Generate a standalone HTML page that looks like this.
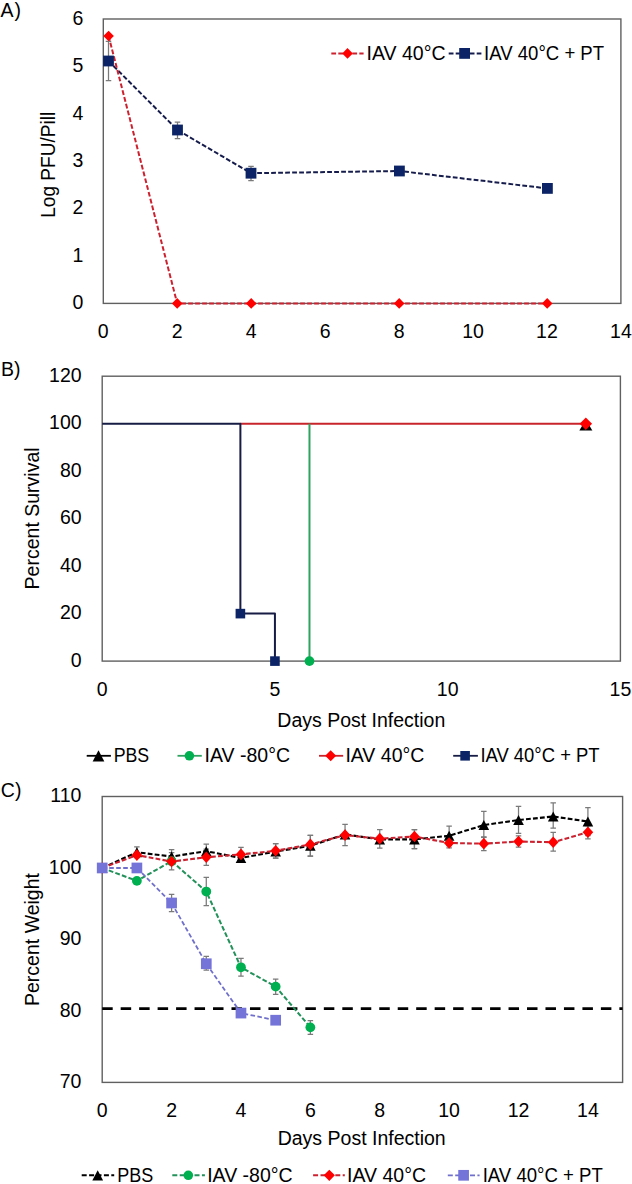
<!DOCTYPE html><html><head><meta charset="utf-8"><style>html,body{margin:0;padding:0;background:#fff;}svg{display:block;}text{font-family:"Liberation Sans",sans-serif;fill:#000;}</style></head><body>
<svg width="632" height="1184" viewBox="0 0 632 1184">
<rect width="632" height="1184" fill="#fff"/>
<rect x="103.3" y="19.0" width="517.60" height="284.40" fill="none" stroke="#606060" stroke-width="1.4"/>
<text x="0.50" y="16.60" text-anchor="start" font-size="19.5">A<tspan dx="1">)</tspan></text>
<text x="83.30" y="309.10" text-anchor="end" font-size="19.5">0</text>
<text x="83.30" y="261.70" text-anchor="end" font-size="19.5">1</text>
<text x="83.30" y="214.30" text-anchor="end" font-size="19.5">2</text>
<text x="83.30" y="166.90" text-anchor="end" font-size="19.5">3</text>
<text x="83.30" y="119.50" text-anchor="end" font-size="19.5">4</text>
<text x="83.30" y="72.10" text-anchor="end" font-size="19.5">5</text>
<text x="83.30" y="24.70" text-anchor="end" font-size="19.5">6</text>
<text x="103.30" y="337.70" text-anchor="middle" font-size="19.5">0</text>
<text x="177.24" y="337.70" text-anchor="middle" font-size="19.5">2</text>
<text x="251.19" y="337.70" text-anchor="middle" font-size="19.5">4</text>
<text x="325.13" y="337.70" text-anchor="middle" font-size="19.5">6</text>
<text x="399.07" y="337.70" text-anchor="middle" font-size="19.5">8</text>
<text x="473.01" y="337.70" text-anchor="middle" font-size="19.5">10</text>
<text x="546.96" y="337.70" text-anchor="middle" font-size="19.5">12</text>
<text x="620.90" y="337.70" text-anchor="middle" font-size="19.5">14</text>
<text transform="translate(55.4 164.8) rotate(-90)" x="0" y="0" text-anchor="middle" font-size="19.5" textLength="105.9" lengthAdjust="spacingAndGlyphs">Log PFU/Pill</text>
<path d="M108.50 41.40V80.70M105.75 41.40H111.25M105.75 80.70H111.25" stroke="#7a7a7a" stroke-width="1.25" fill="none"/>
<path d="M177.50 122.00V138.50M174.75 122.00H180.25M174.75 138.50H180.25" stroke="#7a7a7a" stroke-width="1.25" fill="none"/>
<path d="M251.00 166.40V180.60M248.25 166.40H253.75M248.25 180.60H253.75" stroke="#7a7a7a" stroke-width="1.25" fill="none"/>
<path d="M108.50 61.00L177.50 130.00L251.00 173.20L399.40 171.00L547.40 188.40" stroke="#151c4c" stroke-width="2.0" fill="none" stroke-dasharray="4.8 2.2" stroke-linejoin="round"/>
<path d="M108.60 36.00L177.20 303.40L251.20 303.40L399.20 303.40L547.20 303.40" stroke="#cc2230" stroke-width="2.0" fill="none" stroke-dasharray="4.8 2.2" stroke-linejoin="round"/>
<rect x="103.10" y="55.60" width="10.80" height="10.80" fill="#0c2466"/>
<rect x="172.10" y="124.60" width="10.80" height="10.80" fill="#0c2466"/>
<rect x="245.60" y="167.80" width="10.80" height="10.80" fill="#0c2466"/>
<rect x="394.00" y="165.60" width="10.80" height="10.80" fill="#0c2466"/>
<rect x="542.00" y="183.00" width="10.80" height="10.80" fill="#0c2466"/>
<path d="M108.60 30.70L113.90 36.00L108.60 41.30L103.30 36.00Z" fill="#ff0000"/>
<path d="M177.20 298.10L182.50 303.40L177.20 308.70L171.90 303.40Z" fill="#ff0000"/>
<path d="M251.20 298.10L256.50 303.40L251.20 308.70L245.90 303.40Z" fill="#ff0000"/>
<path d="M399.20 298.10L404.50 303.40L399.20 308.70L393.90 303.40Z" fill="#ff0000"/>
<path d="M547.20 298.10L552.50 303.40L547.20 308.70L541.90 303.40Z" fill="#ff0000"/>
<path d="M331.30 53.40L363.60 53.40" stroke="#cc2230" stroke-width="2.0" fill="none" stroke-dasharray="4.8 2.2" stroke-linejoin="round"/>
<path d="M347.50 48.10L352.80 53.40L347.50 58.70L342.20 53.40Z" fill="#ff0000"/>
<text x="366.60" y="59.50" text-anchor="start" font-size="19.5">IAV 40°C</text>
<path d="M448.70 53.40L481.40 53.40" stroke="#151c4c" stroke-width="2.0" fill="none" stroke-dasharray="4.8 2.2" stroke-linejoin="round"/>
<rect x="459.20" y="48.00" width="10.80" height="10.80" fill="#0c2466"/>
<text x="484.10" y="59.50" text-anchor="start" font-size="19.5" textLength="120" lengthAdjust="spacingAndGlyphs">IAV 40°C + PT</text>
<rect x="102.2" y="376.2" width="518.20" height="284.90" fill="none" stroke="#606060" stroke-width="1.4"/>
<text x="1.00" y="376.10" text-anchor="start" font-size="19.5">B)</text>
<text x="81.60" y="666.60" text-anchor="end" font-size="19.5">0</text>
<text x="81.60" y="619.12" text-anchor="end" font-size="19.5">20</text>
<text x="81.60" y="571.63" text-anchor="end" font-size="19.5">40</text>
<text x="81.60" y="524.15" text-anchor="end" font-size="19.5">60</text>
<text x="81.60" y="476.67" text-anchor="end" font-size="19.5">80</text>
<text x="81.60" y="429.18" text-anchor="end" font-size="19.5">100</text>
<text x="81.60" y="381.70" text-anchor="end" font-size="19.5">120</text>
<text x="102.20" y="696.00" text-anchor="middle" font-size="19.5">0</text>
<text x="274.93" y="696.00" text-anchor="middle" font-size="19.5">5</text>
<text x="447.67" y="696.00" text-anchor="middle" font-size="19.5">10</text>
<text x="620.40" y="696.00" text-anchor="middle" font-size="19.5">15</text>
<text transform="translate(38.9 518.4) rotate(-90)" x="0" y="0" text-anchor="middle" font-size="19.5">Percent Survival</text>
<text x="361.30" y="727.30" text-anchor="middle" font-size="19.5">Days Post Infection</text>
<path d="M240.39 423.68L585.85 423.68" stroke="#c8242b" stroke-width="2.0" fill="none" stroke-linejoin="round"/>
<path d="M309.48 423.68L309.48 661.10" stroke="#2fa260" stroke-width="2.0" fill="none" stroke-linejoin="round"/>
<path d="M102.20 423.68L240.39 423.68L240.39 613.62L274.93 613.62L274.93 661.10" stroke="#161c44" stroke-width="2.0" fill="none" stroke-linejoin="round"/>
<rect x="235.59" y="608.82" width="9.60" height="9.60" fill="#0c2466"/>
<rect x="270.13" y="656.30" width="9.60" height="9.60" fill="#0c2466"/>
<circle cx="309.48" cy="661.10" r="4.90" fill="#00b050"/>
<path d="M585.85 419.38L592.35 430.38L579.35 430.38Z" fill="#000"/>
<path d="M585.85 417.48L592.05 423.68L585.85 429.88L579.65 423.68Z" fill="#ff0000"/>
<path d="M86.70 755.80L110.90 755.80" stroke="#000" stroke-width="1.8" fill="none" stroke-linejoin="round"/>
<path d="M98.50 750.15L104.35 761.45L92.65 761.45Z" fill="#000"/>
<text x="113.70" y="762.10" text-anchor="start" font-size="19.5" textLength="35.5" lengthAdjust="spacingAndGlyphs">PBS</text>
<path d="M177.50 755.80L201.80 755.80" stroke="#2fa260" stroke-width="1.8" fill="none" stroke-linejoin="round"/>
<circle cx="189.40" cy="755.80" r="4.80" fill="#00b050"/>
<text x="204.60" y="762.10" text-anchor="start" font-size="19.5">IAV -80°C</text>
<path d="M319.00 755.80L343.20 755.80" stroke="#c8242b" stroke-width="1.8" fill="none" stroke-linejoin="round"/>
<path d="M330.70 750.30L336.20 755.80L330.70 761.30L325.20 755.80Z" fill="#ff0000"/>
<text x="345.40" y="762.10" text-anchor="start" font-size="19.5">IAV 40°C</text>
<path d="M453.20 755.80L477.90 755.80" stroke="#161c44" stroke-width="1.8" fill="none" stroke-linejoin="round"/>
<rect x="460.30" y="751.00" width="9.60" height="9.60" fill="#0c2466"/>
<text x="480.40" y="762.10" text-anchor="start" font-size="19.5" textLength="119.2" lengthAdjust="spacingAndGlyphs">IAV 40°C + PT</text>
<rect x="102.2" y="796.5" width="520.40" height="285.90" fill="none" stroke="#606060" stroke-width="1.4"/>
<text x="0.80" y="796.90" text-anchor="start" font-size="19.5">C)</text>
<text x="81.40" y="1088.00" text-anchor="end" font-size="19.5">70</text>
<text x="81.40" y="1016.53" text-anchor="end" font-size="19.5">80</text>
<text x="81.40" y="945.05" text-anchor="end" font-size="19.5">90</text>
<text x="81.40" y="873.58" text-anchor="end" font-size="19.5">100</text>
<text x="81.40" y="802.10" text-anchor="end" font-size="19.5">110</text>
<text x="102.20" y="1117.00" text-anchor="middle" font-size="19.5">0</text>
<text x="171.59" y="1117.00" text-anchor="middle" font-size="19.5">2</text>
<text x="240.97" y="1117.00" text-anchor="middle" font-size="19.5">4</text>
<text x="310.36" y="1117.00" text-anchor="middle" font-size="19.5">6</text>
<text x="379.75" y="1117.00" text-anchor="middle" font-size="19.5">8</text>
<text x="449.13" y="1117.00" text-anchor="middle" font-size="19.5">10</text>
<text x="518.52" y="1117.00" text-anchor="middle" font-size="19.5">12</text>
<text x="587.91" y="1117.00" text-anchor="middle" font-size="19.5">14</text>
<text transform="translate(38.9 939.5) rotate(-90)" x="0" y="0" text-anchor="middle" font-size="19.5">Percent Weight</text>
<text x="361.70" y="1145.30" text-anchor="middle" font-size="19.5">Days Post Infection</text>
<path d="M102.20 1008.60L622.60 1008.60" stroke="#000" stroke-width="2.8" fill="none" stroke-dasharray="10.5 7.97" stroke-linejoin="round"/>
<path d="M136.89 846.80V857.70M134.14 846.80H139.64M134.14 857.70H139.64" stroke="#7a7a7a" stroke-width="1.25" fill="none"/>
<path d="M171.59 849.60V863.48M168.84 849.60H174.34M168.84 863.48H174.34" stroke="#7a7a7a" stroke-width="1.25" fill="none"/>
<path d="M206.28 844.20V858.16M203.53 844.20H209.03M203.53 858.16H209.03" stroke="#7a7a7a" stroke-width="1.25" fill="none"/>
<path d="M275.67 843.70V858.00M272.92 843.70H278.42M272.92 858.00H278.42" stroke="#7a7a7a" stroke-width="1.25" fill="none"/>
<path d="M310.36 835.40V856.00M307.61 835.40H313.11M307.61 856.00H313.11" stroke="#7a7a7a" stroke-width="1.25" fill="none"/>
<path d="M345.05 824.30V845.60M342.30 824.30H347.80M342.30 845.60H347.80" stroke="#7a7a7a" stroke-width="1.25" fill="none"/>
<path d="M379.75 829.50V848.00M377.00 829.50H382.50M377.00 848.00H382.50" stroke="#7a7a7a" stroke-width="1.25" fill="none"/>
<path d="M414.44 829.60V848.70M411.69 829.60H417.19M411.69 848.70H417.19" stroke="#7a7a7a" stroke-width="1.25" fill="none"/>
<path d="M449.13 826.10V845.52M446.38 826.10H451.88M446.38 845.52H451.88" stroke="#7a7a7a" stroke-width="1.25" fill="none"/>
<path d="M483.83 811.30V837.40M481.08 811.30H486.58M481.08 837.40H486.58" stroke="#7a7a7a" stroke-width="1.25" fill="none"/>
<path d="M518.52 806.30V833.30M515.77 806.30H521.27M515.77 833.30H521.27" stroke="#7a7a7a" stroke-width="1.25" fill="none"/>
<path d="M553.21 802.80V828.10M550.46 802.80H555.96M550.46 828.10H555.96" stroke="#7a7a7a" stroke-width="1.25" fill="none"/>
<path d="M587.91 807.50V835.53M585.16 807.50H590.66M585.16 835.53H590.66" stroke="#7a7a7a" stroke-width="1.25" fill="none"/>
<path d="M206.28 849.21V865.30M203.53 849.21H209.03M203.53 865.30H209.03" stroke="#7a7a7a" stroke-width="1.25" fill="none"/>
<path d="M240.97 847.30V861.49M238.22 847.30H243.72M238.22 861.49H243.72" stroke="#7a7a7a" stroke-width="1.25" fill="none"/>
<path d="M275.67 843.70V858.00M272.92 843.70H278.42M272.92 858.00H278.42" stroke="#7a7a7a" stroke-width="1.25" fill="none"/>
<path d="M310.36 835.40V856.00M307.61 835.40H313.11M307.61 856.00H313.11" stroke="#7a7a7a" stroke-width="1.25" fill="none"/>
<path d="M414.44 829.60V848.70M411.69 829.60H417.19M411.69 848.70H417.19" stroke="#7a7a7a" stroke-width="1.25" fill="none"/>
<path d="M449.13 838.02V847.90M446.38 838.02H451.88M446.38 847.90H451.88" stroke="#7a7a7a" stroke-width="1.25" fill="none"/>
<path d="M483.83 836.85V850.50M481.08 836.85H486.58M481.08 850.50H486.58" stroke="#7a7a7a" stroke-width="1.25" fill="none"/>
<path d="M518.52 835.90V847.20M515.77 835.90H521.27M515.77 847.20H521.27" stroke="#7a7a7a" stroke-width="1.25" fill="none"/>
<path d="M553.21 832.40V851.00M550.46 832.40H555.96M550.46 851.00H555.96" stroke="#7a7a7a" stroke-width="1.25" fill="none"/>
<path d="M587.91 825.57V838.90M585.16 825.57H590.66M585.16 838.90H590.66" stroke="#7a7a7a" stroke-width="1.25" fill="none"/>
<path d="M171.59 852.57V869.80M168.84 852.57H174.34M168.84 869.80H174.34" stroke="#7a7a7a" stroke-width="1.25" fill="none"/>
<path d="M206.28 877.40V905.60M203.53 877.40H209.03M203.53 905.60H209.03" stroke="#7a7a7a" stroke-width="1.25" fill="none"/>
<path d="M240.97 958.30V976.10M238.22 958.30H243.72M238.22 976.10H243.72" stroke="#7a7a7a" stroke-width="1.25" fill="none"/>
<path d="M275.67 979.20V994.40M272.92 979.20H278.42M272.92 994.40H278.42" stroke="#7a7a7a" stroke-width="1.25" fill="none"/>
<path d="M310.36 1020.50V1034.30M307.61 1020.50H313.11M307.61 1034.30H313.11" stroke="#7a7a7a" stroke-width="1.25" fill="none"/>
<path d="M171.59 894.30V911.70M168.84 894.30H174.34M168.84 911.70H174.34" stroke="#7a7a7a" stroke-width="1.25" fill="none"/>
<path d="M206.28 956.40V970.20M203.53 956.40H209.03M203.53 970.20H209.03" stroke="#7a7a7a" stroke-width="1.25" fill="none"/>
<path d="M102.20 867.98L136.89 852.25L171.59 856.54L206.28 851.18L240.97 857.97L275.67 851.54L310.36 845.82L345.05 834.38L379.75 839.38L414.44 839.38L449.13 835.81L483.83 825.09L518.52 820.09L553.21 816.51L587.91 821.52" stroke="#000" stroke-width="2.1" fill="none" stroke-dasharray="4.8 2.2" stroke-linejoin="round"/>
<path d="M102.20 862.98L107.50 872.98L96.90 872.98Z" fill="#000"/>
<path d="M136.89 847.25L142.19 857.25L131.59 857.25Z" fill="#000"/>
<path d="M171.59 851.54L176.89 861.54L166.29 861.54Z" fill="#000"/>
<path d="M206.28 846.18L211.58 856.18L200.98 856.18Z" fill="#000"/>
<path d="M240.97 852.97L246.27 862.97L235.67 862.97Z" fill="#000"/>
<path d="M275.67 846.54L280.97 856.54L270.37 856.54Z" fill="#000"/>
<path d="M310.36 840.82L315.66 850.82L305.06 850.82Z" fill="#000"/>
<path d="M345.05 829.38L350.35 839.38L339.75 839.38Z" fill="#000"/>
<path d="M379.75 834.38L385.05 844.38L374.45 844.38Z" fill="#000"/>
<path d="M414.44 834.38L419.74 844.38L409.14 844.38Z" fill="#000"/>
<path d="M449.13 830.81L454.43 840.81L443.83 840.81Z" fill="#000"/>
<path d="M483.83 820.09L489.13 830.09L478.53 830.09Z" fill="#000"/>
<path d="M518.52 815.09L523.82 825.09L513.22 825.09Z" fill="#000"/>
<path d="M553.21 811.51L558.51 821.51L547.91 821.51Z" fill="#000"/>
<path d="M587.91 816.52L593.21 826.52L582.61 826.52Z" fill="#000"/>
<path d="M102.20 867.98L136.89 880.84L171.59 861.18L206.28 891.56L240.97 967.33L275.67 986.62L310.36 1027.36" stroke="#23915a" stroke-width="2.0" fill="none" stroke-dasharray="4.8 2.2" stroke-linejoin="round"/>
<circle cx="102.20" cy="867.98" r="4.90" fill="#00b050"/>
<circle cx="136.89" cy="880.84" r="4.90" fill="#00b050"/>
<circle cx="171.59" cy="861.18" r="4.90" fill="#00b050"/>
<circle cx="206.28" cy="891.56" r="4.90" fill="#00b050"/>
<circle cx="240.97" cy="967.33" r="4.90" fill="#00b050"/>
<circle cx="275.67" cy="986.62" r="4.90" fill="#00b050"/>
<circle cx="310.36" cy="1027.36" r="4.90" fill="#00b050"/>
<path d="M102.20 867.98L136.89 855.11L171.59 861.54L206.28 857.25L240.97 854.39L275.67 850.82L310.36 844.39L345.05 835.10L379.75 838.67L414.44 836.53L449.13 842.96L483.83 843.67L518.52 841.53L553.21 842.24L587.91 832.24" stroke="#cc2230" stroke-width="2.1" fill="none" stroke-dasharray="4.8 2.2" stroke-linejoin="round"/>
<path d="M102.20 862.18L107.50 867.98L102.20 873.77L96.90 867.98Z" fill="#ff0000"/>
<path d="M136.89 849.31L142.19 855.11L136.89 860.91L131.59 855.11Z" fill="#ff0000"/>
<path d="M171.59 855.74L176.89 861.54L171.59 867.34L166.29 861.54Z" fill="#ff0000"/>
<path d="M206.28 851.45L211.58 857.25L206.28 863.05L200.98 857.25Z" fill="#ff0000"/>
<path d="M240.97 848.59L246.27 854.39L240.97 860.19L235.67 854.39Z" fill="#ff0000"/>
<path d="M275.67 845.02L280.97 850.82L275.67 856.62L270.37 850.82Z" fill="#ff0000"/>
<path d="M310.36 838.59L315.66 844.39L310.36 850.19L305.06 844.39Z" fill="#ff0000"/>
<path d="M345.05 829.30L350.35 835.10L345.05 840.90L339.75 835.10Z" fill="#ff0000"/>
<path d="M379.75 832.87L385.05 838.67L379.75 844.47L374.45 838.67Z" fill="#ff0000"/>
<path d="M414.44 830.73L419.74 836.53L414.44 842.33L409.14 836.53Z" fill="#ff0000"/>
<path d="M449.13 837.16L454.43 842.96L449.13 848.76L443.83 842.96Z" fill="#ff0000"/>
<path d="M483.83 837.87L489.13 843.67L483.83 849.47L478.53 843.67Z" fill="#ff0000"/>
<path d="M518.52 835.73L523.82 841.53L518.52 847.33L513.22 841.53Z" fill="#ff0000"/>
<path d="M553.21 836.44L558.51 842.24L553.21 848.04L547.91 842.24Z" fill="#ff0000"/>
<path d="M587.91 826.44L593.21 832.24L587.91 838.04L582.61 832.24Z" fill="#ff0000"/>
<path d="M102.20 867.98L136.89 867.98L171.59 903.00L206.28 963.75L240.97 1013.07L275.67 1020.22" stroke="#7070cc" stroke-width="1.8" fill="none" stroke-dasharray="4.6 2.4" stroke-linejoin="round"/>
<rect x="96.85" y="862.62" width="10.70" height="10.70" fill="#7373d8"/>
<rect x="131.54" y="862.62" width="10.70" height="10.70" fill="#7373d8"/>
<rect x="166.24" y="897.65" width="10.70" height="10.70" fill="#7373d8"/>
<rect x="200.93" y="958.40" width="10.70" height="10.70" fill="#7373d8"/>
<rect x="235.62" y="1007.72" width="10.70" height="10.70" fill="#7373d8"/>
<rect x="270.32" y="1014.87" width="10.70" height="10.70" fill="#7373d8"/>
<path d="M81.70 1175.30L114.20 1175.30" stroke="#000" stroke-width="1.9" fill="none" stroke-dasharray="5 2.4" stroke-linejoin="round"/>
<path d="M97.70 1170.15L103.10 1180.45L92.30 1180.45Z" fill="#000"/>
<text x="117.30" y="1181.60" text-anchor="start" font-size="19.5" textLength="36" lengthAdjust="spacingAndGlyphs">PBS</text>
<path d="M172.30 1175.30L204.90 1175.30" stroke="#23915a" stroke-width="1.9" fill="none" stroke-dasharray="5 2.4" stroke-linejoin="round"/>
<circle cx="188.30" cy="1175.30" r="4.80" fill="#00b050"/>
<text x="207.20" y="1181.60" text-anchor="start" font-size="19.5">IAV -80°C</text>
<path d="M313.10 1175.30L344.80 1175.30" stroke="#cc2230" stroke-width="1.9" fill="none" stroke-dasharray="5 2.4" stroke-linejoin="round"/>
<path d="M329.30 1169.70L334.90 1175.30L329.30 1180.90L323.70 1175.30Z" fill="#ff0000"/>
<text x="347.10" y="1181.60" text-anchor="start" font-size="19.5">IAV 40°C</text>
<path d="M447.80 1175.30L479.60 1175.30" stroke="#7070cc" stroke-width="1.8" fill="none" stroke-dasharray="5 2.4" stroke-linejoin="round"/>
<rect x="458.25" y="1169.95" width="10.70" height="10.70" fill="#7373d8"/>
<text x="482.70" y="1181.60" text-anchor="start" font-size="19.5" textLength="120.1" lengthAdjust="spacingAndGlyphs">IAV 40°C + PT</text>
</svg></body></html>
